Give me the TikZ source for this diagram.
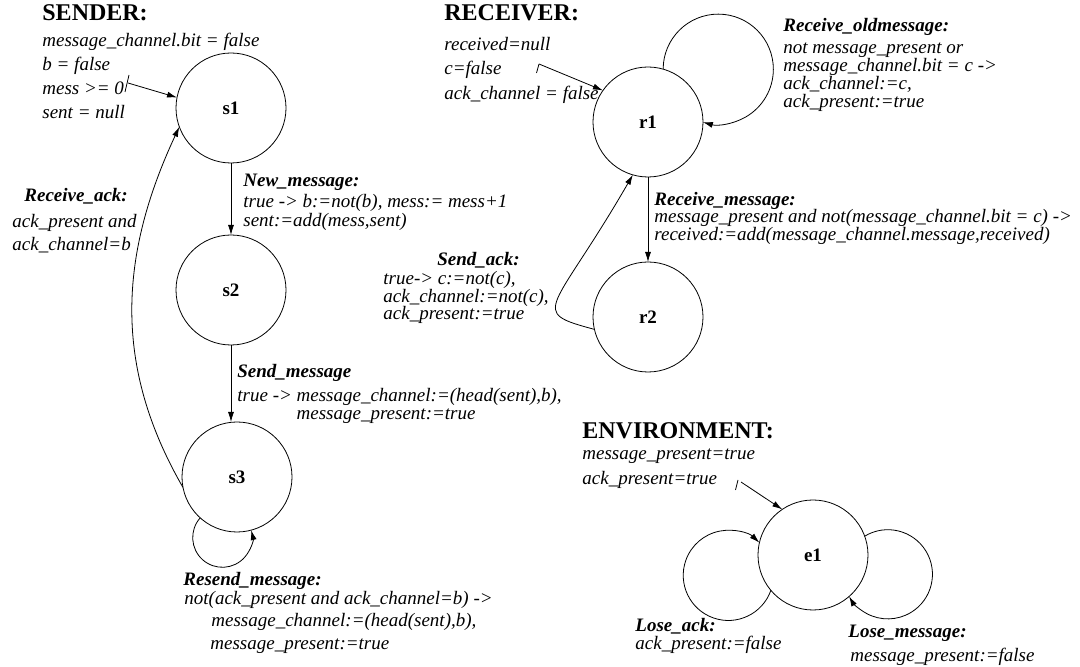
\documentclass[tikz,border=0pt]{standalone}
\usepackage{fontspec}
\setmainfont{Liberation Serif}
\usepackage{tikz}
\usetikzlibrary{arrows.meta,shapes}
\usetikzlibrary{positioning}
\tikzstyle{state} = [draw, circle, minimum size=110pt, inner sep=0pt, outer sep=0pt,
    font=\fontsize{19}{22}\selectfont\bfseries]
\tikzstyle{heading} = [anchor=west, inner sep=0pt, text height=16pt, text depth=0pt,
    font=\fontsize{24}{28}\selectfont\bfseries]
\tikzstyle{trans} = [anchor=west, inner sep=0pt, text height=13pt, text depth=4pt,
    font=\fontsize{19}{22}\selectfont\bfseries\itshape]
\tikzset{cond/.style={anchor=west, inner sep=0pt, align=left,
    font=\fontsize{19}{#1}\selectfont\itshape}, cond/.default=22}

\begin{document}
\begin{tikzpicture}[x=1pt, y=1pt, line width=0.8pt, >={Latex[length=10pt,width=6pt]}]
  \useasboundingbox (0,0) rectangle (1080,667);
  \node [state] (s1) at (231,559) {s1};
  \node [state, below of=s1, node distance=182pt] (s2) {s2};
  \node [state] (s3) at (237,190) {s3};
  \node [state] (r1) at (648,545) {r1};
  \node [state, below of=r1, node distance=195pt] (r2) {r2};
  \node [state] (e1) at (813,112) {e1};

  \node [heading] (sendertitle) at (42,654) {SENDER:};
  \node [cond=24] (senderinit) at (42,591) {message\_channel.bit = false\\ b = false\\ mess >= 0\\ sent = null};
  \node [trans] (newmsg) at (243,485) {New\_message:};
  \node [cond=19] (newmsgtxt) at (243,454.5) {true -> b:=not(b), mess:= mess+1\\ sent:=add(mess,sent)};
  \node [trans] (recack) at (24,470) {Receive\_ack:};
  \node [cond=23] (recacktxt) at (12,433.5) {ack\_present and\\ ack\_channel=b};
  \node [trans] (sendmsg) at (237,294) {Send\_message};
  \node [cond=18] (sendmsgtxt) at (237,261) {true -> message\_channel:=(head(sent),b),\\ \hphantom{true -> }message\_present:=true};
  \node [trans] (resend) at (183,86) {Resend\_message:};
  \node [cond=22.5] (resendtxt) at (184,45) {not(ack\_present and ack\_channel=b) ->\\ \hspace*{27pt}message\_channel:=(head(sent),b),\\ \hspace*{26pt}message\_present:=true};

  \node [heading] (receivertitle) at (444,654) {RECEIVER:};
  \node [cond=24.5] (receiverinit) at (444,597) {received=null\\ c=false\\ ack\_channel = false};
  \node [trans] (recold) at (783,640) {Receive\_oldmessage:};
  \node [cond=18] (recoldtxt) at (783,589.5) {not message\_present or\\ message\_channel.bit = c ->\\ ack\_channel:=c,\\ ack\_present:=true};
  \node [trans] (recmsg) at (654,466) {Receive\_message:};
  \node [cond=17] (recmsgtxt) at (654,440) {message\_present and not(message\_channel.bit = c) ->\\ received:=add(message\_channel.message,received)};
  \node [trans] (sendack) at (437,406) {Send\_ack:};
  \node [cond=17.5] (sendacktxt) at (383,369.5) {true-> c:=not(c),\\ ack\_channel:=not(c),\\ ack\_present:=true};

  \node [heading] (envtitle) at (582,236) {ENVIRONMENT:};
  \node [cond=25] (envinit) at (582,198) {message\_present=true\\ ack\_present=true};
  \node [trans] (loseack) at (635,40) {Lose\_ack:};
  \node [cond] (loseacktxt) at (635,22) {ack\_present:=false};
  \node [trans] (losemsg) at (848,34) {Lose\_message:};
  \node [cond] (losemsgtxt) at (850,10) {message\_present:=false};

  \coordinate (s1init) at (128,584);
  \coordinate (r1init) at (539,603);
  \coordinate (e1init) at (741,185);
  \draw [->] (s1init) -- (s1.169);
  \draw (s1init) ++(1,8) -- ++(-4,-17);
  \draw [->] (r1init) -- (r1.145);
  \draw (r1init) -- ++(-2.5,-9);
  \draw [->] (e1init) -- (e1.124);
  \draw (e1init) ++(-3,2) -- ++(-2.5,-10);

  \draw [->] (s1) -- (s2);
  \draw [->] (s2) -- (s2 |- s3.north);
  \draw [->] (s3.191) to [out=120, in=245] (s1.200);
  \draw [->] (s3.228) arc [start angle=138.4, end angle=374.6, radius=29.7];
  \draw [->] (r1) -- (r2);
  \draw [->] (r2.193) to [out=165, in=240, out distance=70pt, in distance=160pt] (r1.254);
  \draw [->] (r1.74) arc [start angle=179.9, end angle=-106.2, radius=55.1];
  \draw [->] (e1.220) arc [start angle=-19.4, end angle=-313.5, radius=45.1];
  \draw [->] (e1.20) arc [start angle=121.3, end angle=-150.3, radius=44.6];
\end{tikzpicture}
\end{document}
